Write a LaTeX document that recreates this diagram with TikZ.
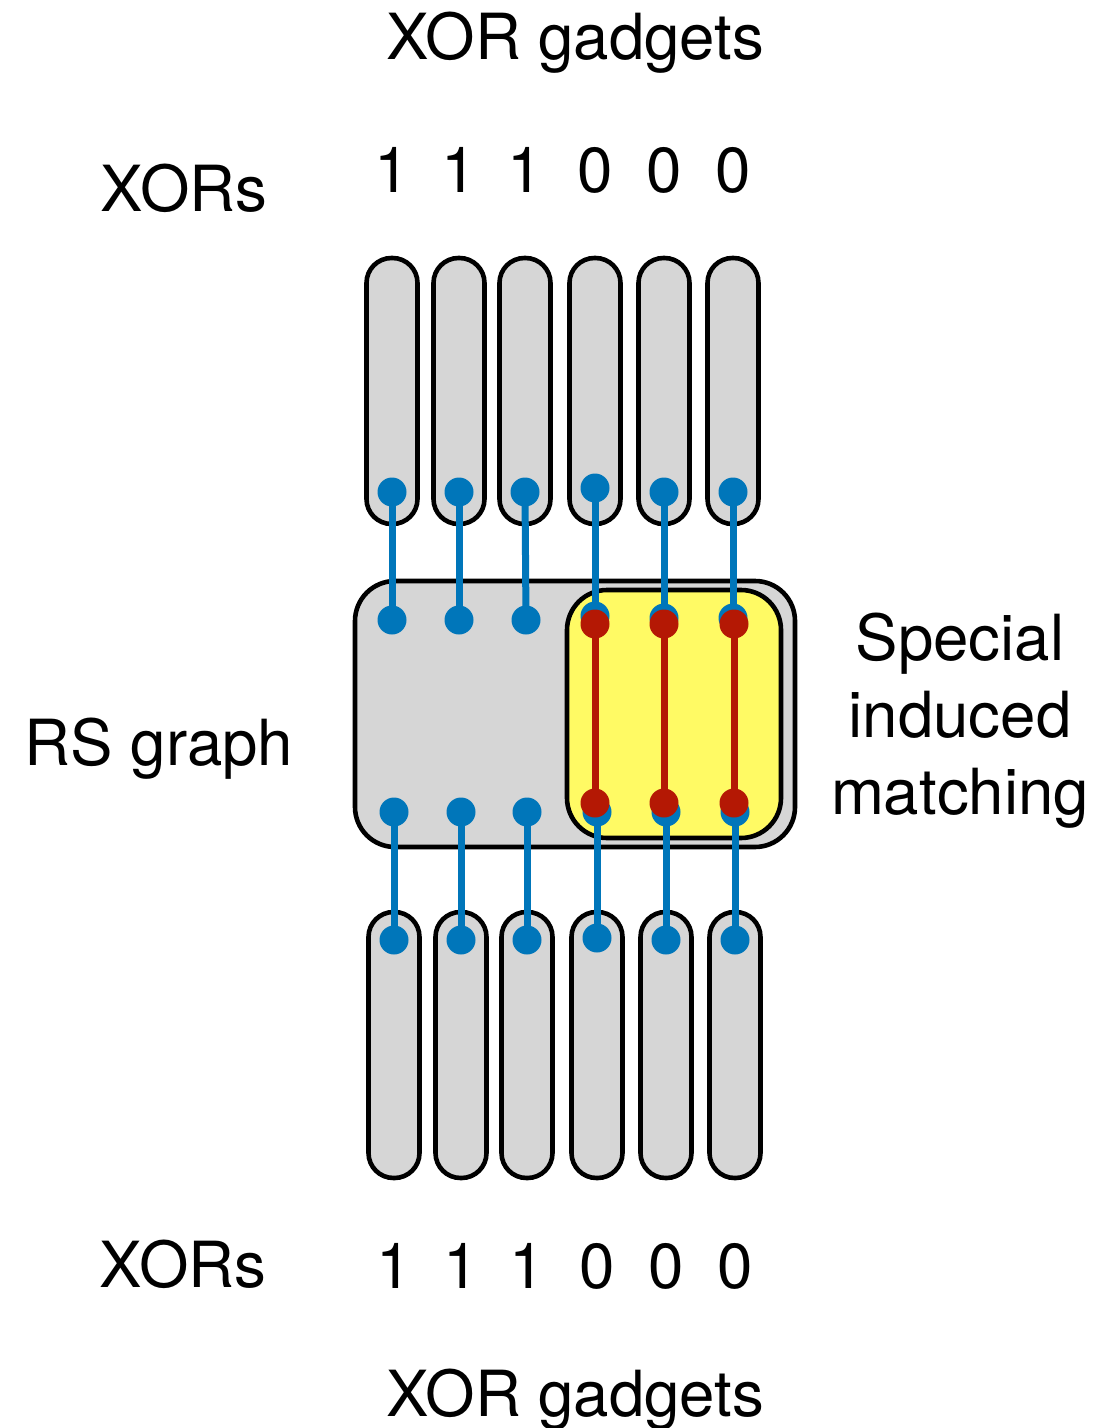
\documentclass[tikz,border=0pt]{standalone}
\usepackage{fontspec}
\setmainfont{TeX Gyre Heros}
\definecolor{gadgetgray}{RGB}{214,214,214}
\definecolor{myblue}{RGB}{0,118,186}
\definecolor{myred}{RGB}{180,24,4}
\definecolor{myyellow}{RGB}{255,250,100}
\begin{document}
\begin{tikzpicture}[x=0.5pt,y=-0.5pt,
  gadget/.style={draw=black, line width=2.3pt, fill=gadgetgray, rounded corners=12.5pt,
    minimum width=25.5pt, minimum height=133pt, inner sep=0pt},
  rsbox/.style={draw=black, line width=2.3pt, fill=gadgetgray, rounded corners=20pt,
    minimum width=220pt, minimum height=133pt, inner sep=0pt},
  specialbox/.style={draw=black, line width=2.3pt, fill=myyellow, rounded corners=20pt,
    minimum width=107pt, minimum height=124pt, inner sep=0pt},
  blueline/.style={draw=myblue, line width=3.5pt},
  redline/.style={draw=myred, line width=3.5pt},
  bluedot/.style={circle, fill=myblue, minimum size=14.5pt, inner sep=0pt},
  reddot/.style={circle, fill=myred, minimum size=14.5pt, inner sep=0pt},
  lbl/.style={font=\fontsize{31.8}{38}\selectfont, inner sep=0pt, anchor=base}]
\useasboundingbox (0,0) rectangle (1108,1428);

% gadgets
\foreach \x [count=\i] in {392,459,525,595,664,733}
  \node[gadget] (gt\i) at (\x,391) {};
\foreach \x [count=\i] in {394,461,527,597,666,735}
  \node[gadget] (gb\i) at (\x,1045) {};

% RS graph box and special induced matching box
\node[rsbox] (rs) at (575,714) {};
\node[specialbox] (sim) at (674,714) {};

% vertex positions
\coordinate (ut1) at (392,492); \coordinate (ut2) at (459,492); \coordinate (ut3) at (525,492);
\coordinate (ut4) at (595,488); \coordinate (ut5) at (664,492); \coordinate (ut6) at (733,492);
\coordinate (ua1) at (392,620); \coordinate (ua2) at (459,620); \coordinate (ua3) at (526,620);
\coordinate (ua4) at (595,616); \coordinate (ua5) at (664,618); \coordinate (ua6) at (733,618);
\coordinate (la1) at (394,812); \coordinate (la2) at (461,812); \coordinate (la3) at (527,812);
\coordinate (la4) at (597,812); \coordinate (la5) at (666,812); \coordinate (la6) at (735,812);
\coordinate (lt1) at (394,940); \coordinate (lt2) at (461,940); \coordinate (lt3) at (527,940);
\coordinate (lt4) at (597,938); \coordinate (lt5) at (666,940); \coordinate (lt6) at (735,940);
\coordinate (ra1) at (595,624); \coordinate (ra2) at (664,624); \coordinate (ra3) at (734,624);
\coordinate (rb1) at (595,803); \coordinate (rb2) at (664,803); \coordinate (rb3) at (734,803);

% blue edges and vertices
\foreach \i in {1,...,6} {
  \draw[blueline] (ut\i) -- (ua\i);
  \draw[blueline] (la\i) -- (lt\i);
}
\foreach \i in {1,...,6} {
  \node[bluedot] (dut\i) at (ut\i) {};
  \node[bluedot] (dua\i) at (ua\i) {};
  \node[bluedot] (dla\i) at (la\i) {};
  \node[bluedot] (dlt\i) at (lt\i) {};
}
% red matching edges
\foreach \i in {1,2,3} {
  \draw[redline] (ra\i) -- (rb\i);
  \node[reddot] (dra\i) at (ra\i) {};
  \node[reddot] (drb\i) at (rb\i) {};
}

% labels
\node[lbl] (titletop) at (575,60) {XOR gadgets};
\node[lbl] (xorstop) at (184,212) {XORs};
\foreach \x/\d [count=\i] in {392/1,459/1,525/1,595/0,664/0,733/0}
  \node[lbl] (vt\i) at (\x,193) {\d};
\node[lbl] (rslbl) at (159,765) {RS graph};
\node[lbl] (sp1) at (960,660) {Special};
\node[lbl] (sp2) at (960,737) {induced};
\node[lbl] (sp3) at (960,814) {matching};
\node[lbl] (xorsbot) at (183,1287) {XORs};
\foreach \x/\d [count=\i] in {394/1,461/1,527/1,597/0,666/0,735/0}
  \node[lbl] (vb\i) at (\x,1288) {\d};
\node[lbl] (titlebot) at (575,1416) {XOR gadgets};
\end{tikzpicture}
\end{document}
